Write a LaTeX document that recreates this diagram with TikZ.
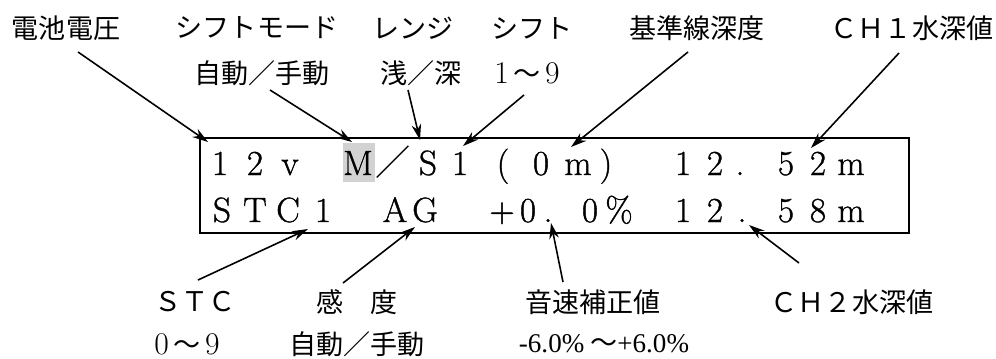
\documentclass[tikz,border=0pt]{standalone}
\usepackage{fontspec}
\newfontfamily\cjk{Noto Sans CJK JP}
\newfontfamily\tms{Liberation Serif}
\newfontfamily\dispfont{Latin Modern Roman}[FakeBold=1]
\newcommand\lbldigit[1]{{\rmfamily\fontsize{18}{20}\selectfont #1}}
\usetikzlibrary{arrows.meta}

\tikzset{
  lbl/.style={font=\cjk\fontsize{15.4}{18}\selectfont, inner sep=0pt},
  disp/.style={font=\dispfont\fontsize{20}{24}\selectfont, anchor=base, inner sep=0pt},
}

\begin{document}
\begin{tikzpicture}[x=0.02cm, y=-0.02cm, node distance=0.84cm, line width=0.9pt,
    >={Stealth[length=9pt, width=5.5pt]}]
  \useasboundingbox (0,0) rectangle (996,358);

  % labels above the panel
  \node[lbl] (batt)   at (66,28)  {電池電圧};
  \node[lbl] (smode)  at (257,28) {シフトモード};
  \node[lbl] (range)  at (413,28) {レンジ};
  \node[lbl] (shft)   at (532,28) {シフト};
  \node[lbl] (baseln) at (697,28) {基準線深度};
  \node[lbl] (ch1)    at (912,28) {ＣＨ１水深値};
  \node[lbl] (smodeV) at (262,73) {自動／手動};
  \node[lbl] (rangeV) at (421,73) {浅／深};
  \node[lbl] (shftV)  at (527,73) {\lbldigit{1}\,～\,\lbldigit{9}};

  % labels below the panel
  \node[lbl] (stc)    at (195,302) {ＳＴＣ};
  \node[lbl] (gain)   at (357,302) {感　度};
  \node[lbl] (sound)  at (593,302) {音速補正値};
  \node[lbl] (ch2)    at (852,302) {ＣＨ２水深値};
  \node[lbl] (stcV)   at (187,344) {\lbldigit{0}\,～\,\lbldigit{9}};
  \node[lbl, below of=gain] (gainV) {自動／手動};
  \node[lbl] (soundV) at (604,344) {{\tms -6.0\%} ～{\tms +6.0\%}};

  % display panel
  \fill[gray!35] (343,143) rectangle (375,182);
  \draw[line width=1.1pt] (200,138) rectangle (909,233);
  \foreach \x/\c in {220/1, 255/2, 290/v, 358/M, 428/S, 460/1, 503/{(}, 541/0,
      578/m, 606/{)}, 683/1, 715/2, 740/{.}, 786/5, 818/2, 851/m}
    \node[disp] (u\x) at (\x,175) {\c};
  \node[disp, font=\cjk\fontsize{20}{24}\selectfont] (slash) at (393,175) {／};
  \foreach \x/\c in {222/S, 255/T, 288/C, 323/1, 395/A, 425/G, 502/+, 528/0,
      548/{.}, 590/0, 619/{\%}, 683/1, 715/2, 742/{.}, 786/5, 818/8, 851/m}
    \node[disp] (l\x) at (\x,222) {\c};

  % arrow tips on the panel
  \coordinate (battP)  at (208,142);
  \coordinate (smodeP) at (352,142);
  \coordinate (rangeP) at (420,140);
  \coordinate (shftP)  at (463,146);
  \coordinate (baseP)  at (571,147);
  \coordinate (ch1P)   at (811,148);
  \coordinate (stcP)   at (308,229);
  \coordinate (gainP)  at (415,227);
  \coordinate (soundP) at (551,223);
  \coordinate (ch2P)   at (749,225);

  \draw[->] ([shift={(12,24)}]batt.center)    to (battP);
  \draw[->] ([shift={(8,17)}]smodeV.center)   to (smodeP);
  \draw[->] ([shift={(-13,17)}]rangeV.center) to (rangeP);
  \draw[->] ([shift={(-3,22)}]shftV.center)   to (shftP);
  \draw[->] ([shift={(-9,24)}]baseln.center)  to (baseP);
  \draw[->] ([shift={(-13,25)}]ch1.center)    to (ch1P);

  \draw[->] ([shift={(3,-22)}]stc.center)     to (stcP);
  \draw[->] ([shift={(-14,-19)}]gain.center)  to (gainP);
  \draw[->] ([shift={(-30,-20)}]sound.center) to (soundP);
  \draw[->] ([shift={(-53,-39)}]ch2.center)   to (ch2P);

\end{tikzpicture}
\end{document}
